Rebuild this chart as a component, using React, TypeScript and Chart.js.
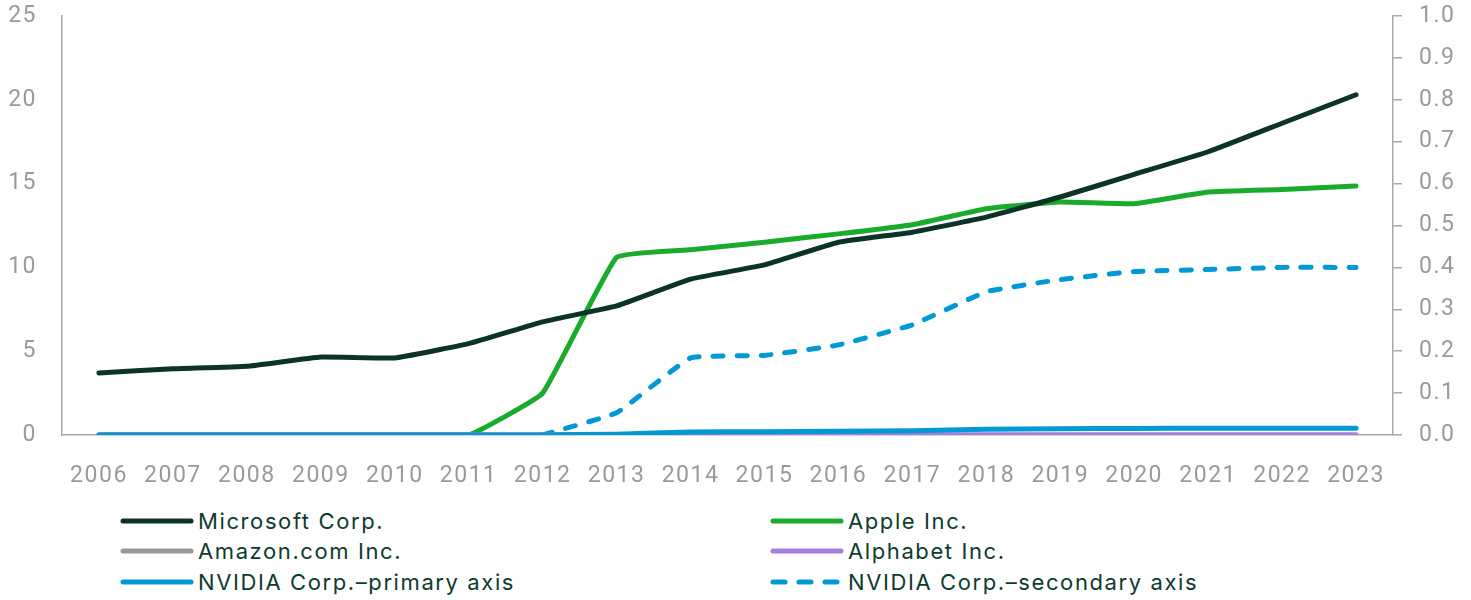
import React, { useEffect, useRef } from "react";
import { Chart, registerables } from "chart.js";

Chart.register(...registerables);

const years = ["2006","2007","2008","2009","2010","2011","2012","2013","2014","2015","2016","2017","2018","2019","2020","2021","2022","2023"];
const microsoft = [3.7, 3.95, 4.1, 4.65, 4.6, 5.45, 6.75, 7.7, 9.3, 10.15, 11.5, 12.1, 13.0, 14.2, 15.55, 16.9, 18.6, 20.3];
const apple = [0, 0, 0, 0, 0, 0, 2.5, 10.6, 11.05, 11.5, 12.0, 12.55, 13.5, 13.9, 13.8, 14.5, 14.65, 14.85];
const amazon = [0, 0, 0, 0, 0, 0, 0, 0, 0, 0, 0, 0, 0, 0, 0, 0, 0, 0];
const alphabet = [0, 0, 0, 0, 0, 0, 0, 0, 0, 0, 0, 0, 0, 0, 0, 0, 0, 0];
const nvidiaPrimary = [0, 0, 0, 0, 0, 0, 0, 0.05, 0.18, 0.19, 0.22, 0.26, 0.34, 0.37, 0.39, 0.4, 0.4, 0.4];
const nvidiaSecondary = [null, null, null, null, null, null, 0, 0.053, 0.184, 0.19, 0.215, 0.263, 0.342, 0.371, 0.39, 0.395, 0.4, 0.4];
const leftTicks = [0, 5, 10, 15, 20, 25];
const rightTicks = [0, 0.1, 0.2, 0.3, 0.4, 0.5, 0.6, 0.7, 0.8, 0.9, 1.0];

const C_MSFT = "#0b3327";
const C_AAPL = "#1aab2c";
const C_AMZN = "#999999";
const C_GOOG = "#a57de0";
const C_NVDA = "#0099d6";
const AXIS = "#a9a9a9";
const TICK = "#9a9a9a";
const TEXT = "#0d3b2e";

const legendItems = [
  { label: "Microsoft Corp.", color: C_MSFT, dash: false },
  { label: "Apple Inc.", color: C_AAPL, dash: false },
  { label: "Amazon.com Inc.", color: C_AMZN, dash: false },
  { label: "Alphabet Inc.", color: C_GOOG, dash: false },
  { label: "NVIDIA Corp.\u2013primary axis", color: C_NVDA, dash: false },
  { label: "NVIDIA Corp.\u2013secondary axis", color: C_NVDA, dash: true },
];

const spacingPlugin = {
  id: "letterSpacing",
  beforeUpdate: (chart: any) => { (chart.ctx as any).letterSpacing = "1.5px"; },
  beforeDraw: (chart: any) => { (chart.ctx as any).letterSpacing = "1.5px"; },
};

export default function App() {
  const ref = useRef<HTMLCanvasElement | null>(null);

  useEffect(() => {
    document.body.style.margin = "0";
    if (!ref.current) return;
    const common = {
      pointRadius: 0,
      borderWidth: 5,
      borderCapStyle: "round" as const,
      borderJoinStyle: "round" as const,
      tension: 0.1,
      fill: false,
    };
    const tickFont = { family: "Roboto", size: 23 };
    const noVPad = (s: any, w: number) => {
      s.width = w;
      s.paddingTop = 0;
      s.paddingBottom = 0;
    };
    const chart = new Chart(ref.current, {
      type: "line",
      plugins: [spacingPlugin],
      data: {
        labels: years,
        datasets: [
          { ...common, label: "NVIDIA Corp.–primary axis", data: nvidiaPrimary, borderColor: C_NVDA, yAxisID: "y" },
          { ...common, label: "Alphabet Inc.", data: alphabet, borderColor: C_GOOG, yAxisID: "y" },
          { ...common, label: "Amazon.com Inc.", data: amazon, borderColor: C_AMZN, yAxisID: "y" },
          { ...common, label: "Microsoft Corp.", data: microsoft, borderColor: C_MSFT, yAxisID: "y" },
          { ...common, label: "Apple Inc.", data: apple, borderColor: C_AAPL, yAxisID: "y" },
          { ...common, label: "NVIDIA Corp.–secondary axis", data: nvidiaSecondary as any, borderColor: C_NVDA, borderDash: [10, 14], yAxisID: "y1" },
        ],
      },
      options: {
        animation: false,
        responsive: false,
        maintainAspectRatio: false,
        layout: { padding: { top: 16, left: 0, right: 0, bottom: 0 } },
        plugins: { legend: { display: false }, tooltip: { enabled: false } },
        scales: {
          x: {
            offset: true,
            grid: { display: false, drawTicks: false },
            border: { display: true, color: AXIS, width: 1.5 },
            ticks: { color: TICK, font: tickFont, padding: 27, maxRotation: 0, autoSkip: false },
            afterFit: (s: any) => { s.height = 55; s.paddingLeft = 0; s.paddingRight = 0; },
          },
          y: {
            position: "left",
            min: 0,
            max: 25,
            afterBuildTicks: (s: any) => { s.ticks = leftTicks.map((v) => ({ value: v })); },
            grid: { display: false, drawTicks: false },
            border: { display: true, color: AXIS, width: 1.5 },
            ticks: { color: TICK, font: tickFont, padding: 25 },
            afterFit: (s: any) => noVPad(s, 62),
          },
          y1: {
            position: "right",
            min: 0,
            max: 1,
            afterBuildTicks: (s: any) => { s.ticks = rightTicks.map((v) => ({ value: v })); },
            grid: { display: true, drawOnChartArea: false, drawTicks: true, tickLength: 9, color: AXIS, lineWidth: 1.5 },
            border: { display: true, color: AXIS, width: 1.5 },
            ticks: { color: TICK, font: tickFont, padding: 17, callback: (v: any) => Number(v).toFixed(1) },
            afterFit: (s: any) => noVPad(s, 78),
          },
        },
      },
    });
    return () => chart.destroy();
  }, []);

  const cols = [110, 760];
  const rows = [521, 551, 582];

  return (
    <div style={{ position: "relative", width: 1471, height: 600, background: "#fff" }}>
      <canvas ref={ref} width={1471} height={490} style={{ position: "absolute", left: 0, top: 0, width: 1471, height: 490 }} />
      {legendItems.map((it, i) => {
        const col = i % 2;
        const row = Math.floor(i / 2);
        return (
          <div
            key={it.label}
            style={{
              position: "absolute",
              left: cols[col] + 10,
              top: rows[row] - 15,
              height: 30,
              display: "flex",
              alignItems: "center",
              fontFamily: "Inter, Roboto, sans-serif",
              fontSize: 22,
              letterSpacing: "1.6px",
              color: TEXT,
              whiteSpace: "nowrap",
            }}
          >
            <svg width={74} height={10} style={{ marginRight: 4 }}>
              {it.dash ? (
                <line x1={3} y1={5} x2={71} y2={5} stroke={it.color} strokeWidth={5} strokeLinecap="round" strokeDasharray="12 14" />
              ) : (
                <line x1={3} y1={5} x2={71} y2={5} stroke={it.color} strokeWidth={5} strokeLinecap="round" />
              )}
            </svg>
            <span>{it.label}</span>
          </div>
        );
      })}
    </div>
  );
}
